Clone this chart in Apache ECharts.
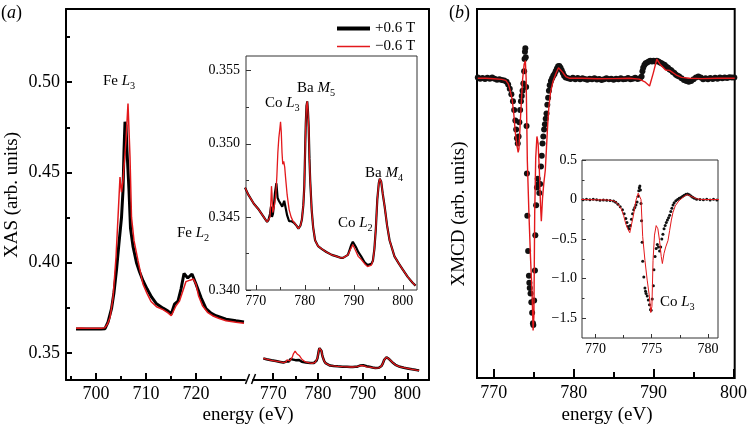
<!DOCTYPE html>
<html><head><meta charset="utf-8">
<script src="https://cdn.jsdelivr.net/npm/echarts@6/dist/echarts.min.js"></script>
<style>html,body{margin:0;padding:0;background:#fff}#c{width:750px;height:426px}</style>
</head><body><div id="c"></div>
<script>
// ---------- DATA ----------
// XAS, Fe L edge (energy eV, intensity)
const feBlack = [[696.0,0.3632],[697.0,0.3633],[698.0,0.3632],[699.0,0.3633],[700.0,0.3632],[701.0,0.3632],[701.8,0.3634],[702.4,0.3670],[703.1,0.3745],[703.6,0.3835],[704.1,0.3960],[704.6,0.4110],[705.1,0.4250],[705.4,0.4400],[705.6,0.4620],[705.8,0.4780],[706.0,0.4760],[706.2,0.4620],[706.6,0.4400],[706.9,0.4190],[707.4,0.4090],[708.1,0.4000],[708.7,0.3950],[709.4,0.3900],[710.2,0.3855],[711.1,0.3810],[712.1,0.3772],[713.4,0.3748],[714.4,0.3732],[715.05,0.3716],[715.7,0.3770],[716.4,0.3787],[717.0,0.3854],[717.6,0.3940],[718.35,0.3915],[719.2,0.3937],[720.0,0.3882],[721.0,0.3807],[722.0,0.3745],[723.0,0.3720],[724.0,0.3706],[726.0,0.3687],[728.0,0.3678],[729.6,0.3672]];
const feRed = [[696.0,0.3637],[697.0,0.3638],[698.0,0.3636],[699.0,0.3637],[700.0,0.3636],[701.0,0.3636],[701.8,0.3640],[702.3,0.3660],[702.8,0.3696],[703.4,0.3805],[704.0,0.4030],[704.4,0.4250],[704.8,0.4474],[705.1,0.4390],[705.4,0.4456],[706.0,0.4678],[706.4,0.4882],[706.8,0.4585],[707.1,0.4252],[707.6,0.4122],[708.4,0.4011],[709.4,0.3880],[710.2,0.3830],[711.0,0.3785],[712.1,0.3756],[713.4,0.3740],[714.4,0.3722],[715.05,0.3706],[716.0,0.3761],[716.7,0.3787],[717.5,0.3854],[718.0,0.3895],[718.8,0.3903],[719.5,0.3909],[720.0,0.3880],[720.5,0.3817],[721.3,0.3761],[722.3,0.3725],[723.3,0.3706],[724.5,0.3692],[726.0,0.3678],[728.0,0.3670],[729.6,0.3664]];
// XAS, Co L / Ba M edges
const baBlack = [[767.8,0.3470],[768.5,0.3465],[769.6,0.3459],[770.6,0.3455],[771.6,0.3450],[772.3,0.34465],[772.6,0.3448],[772.9,0.3452],[773.1,0.3457],[773.3,0.3450],[773.5,0.3452],[773.7,0.3458],[773.9,0.3466],[774.2,0.3473],[774.45,0.3463],[774.7,0.3461],[775.0,0.3460],[775.4,0.3457],[775.8,0.3461],[776.1,0.3456],[776.4,0.3451],[776.8,0.3447],[777.3,0.3447],[777.8,0.3446],[778.3,0.3444],[778.7,0.3442],[779.1,0.3444],[779.4,0.3448],[779.7,0.3458],[779.9,0.3471],[780.1,0.3500],[780.2,0.3514],[780.35,0.3526],[780.5,0.3529],[780.65,0.3522],[780.8,0.3511],[780.95,0.3490],[781.1,0.3475],[781.4,0.3455],[781.7,0.3443],[782.1,0.3434],[782.7,0.3430],[783.5,0.3428],[784.4,0.3426],[785.5,0.3424],[786.5,0.3423],[787.3,0.3422],[787.8,0.3422],[788.3,0.3423],[788.8,0.3424],[789.2,0.3428],[789.5,0.3431],[789.8,0.3433],[790.1,0.3432],[790.5,0.3429],[790.9,0.3426],[791.5,0.3423],[792.2,0.3419],[792.8,0.3417],[793.2,0.3417],[793.6,0.3418],[793.9,0.3420],[794.2,0.3428],[794.5,0.3442],[794.8,0.3462],[795.1,0.3473],[795.3,0.3476],[795.6,0.3474],[795.9,0.3466],[796.3,0.3457],[796.8,0.3444],[797.3,0.3434],[798.3,0.3423],[799.2,0.3418],[800.0,0.3414],[801.0,0.3409],[802.0,0.3405],[802.6,0.3403]];
const baRed = [[767.8,0.3470],[768.5,0.3465],[769.6,0.3459],[770.6,0.3455],[771.6,0.3450],[772.3,0.34465],[772.6,0.3447],[772.9,0.3450],[773.1,0.3462],[773.2,0.3471],[773.3,0.3466],[773.45,0.3453],[773.7,0.3456],[773.9,0.3460],[774.1,0.3466],[774.3,0.3478],[774.5,0.3494],[774.7,0.3504],[774.9,0.3510],[775.05,0.3515],[775.2,0.3508],[775.35,0.3494],[775.5,0.3486],[775.7,0.3488],[775.9,0.3484],[776.1,0.3476],[776.4,0.3465],[776.8,0.3455],[777.2,0.3450],[777.6,0.3447],[778.1,0.3445],[778.7,0.3442],[779.1,0.3444],[779.4,0.3448],[779.7,0.3458],[779.9,0.3471],[780.1,0.3500],[780.2,0.3514],[780.35,0.3526],[780.5,0.3529],[780.65,0.3522],[780.8,0.3511],[780.95,0.3490],[781.1,0.3475],[781.4,0.3455],[781.7,0.3443],[782.1,0.3434],[782.7,0.3430],[783.5,0.3428],[784.4,0.3426],[785.5,0.3424],[786.5,0.3423],[787.3,0.3422],[787.8,0.3422],[788.3,0.3423],[788.8,0.3424],[789.2,0.3427],[789.5,0.3429],[789.8,0.3431],[790.1,0.3430],[790.5,0.3426],[790.9,0.3423],[791.5,0.3421],[792.2,0.3418],[792.8,0.3416],[793.2,0.3416],[793.6,0.3417],[793.9,0.3420],[794.2,0.3428],[794.5,0.3442],[794.8,0.3462],[795.1,0.3473],[795.3,0.3476],[795.6,0.3474],[795.9,0.3466],[796.3,0.3457],[796.8,0.3444],[797.3,0.3434],[798.3,0.3423],[799.2,0.3418],[800.0,0.3414],[801.0,0.3409],[802.0,0.3405],[802.6,0.3403]];
// XMCD, Co L edge: measured (dots) and red curve
const xmcdBlack = [[768.0,0.004],[768.3,-0.003],[768.6,0.002],[768.9,-0.004],[769.2,0.003],[769.5,-0.002],[769.8,0.004],[770.1,-0.003],[770.4,-0.008],[770.7,-0.005],[771.0,-0.01],[771.3,-0.012],[771.6,-0.02],[771.8,-0.035],[772.0,-0.06],[772.2,-0.09],[772.4,-0.13],[772.55,-0.18],[772.7,-0.24],[772.8,-0.29],[772.9,-0.34],[773.0,-0.37],[773.1,-0.33],[773.2,-0.25],[773.3,-0.18],[773.4,-0.13],[773.5,-0.10],[773.6,-0.07],[773.7,-0.03],[773.8,0.04],[773.85,0.11],[773.9,0.15],[773.95,0.17],[774.0,0.12],[774.05,-0.05],[774.1,-0.27],[774.15,-0.54],[774.2,-0.78],[774.3,-0.98],[774.4,-1.12],[774.45,-1.16],[774.5,-1.19],[774.6,-1.22],[774.7,-1.27],[774.8,-1.33],[774.9,-1.39],[774.95,-1.40],[775.05,-1.26],[775.15,-1.09],[775.2,-0.89],[775.3,-0.72],[775.4,-0.62],[775.5,-0.57],[775.6,-0.60],[775.7,-0.65],[775.8,-0.60],[775.9,-0.50],[776.0,-0.44],[776.1,-0.37],[776.2,-0.33],[776.3,-0.29],[776.4,-0.26],[776.5,-0.23],[776.6,-0.20],[776.7,-0.15],[776.8,-0.11],[776.9,-0.07],[777.0,-0.04],[777.15,-0.015],[777.3,0.0],[777.45,0.015],[777.6,0.025],[777.75,0.04],[777.9,0.055],[778.05,0.068],[778.2,0.07],[778.35,0.06],[778.5,0.045],[778.65,0.03],[778.8,0.015],[779.0,0.005],[779.3,0.0],[779.6,-0.004],[779.9,0.003],[780.2,-0.005],[780.5,0.002],[780.8,-0.006],[781.1,0.0],[781.4,-0.004],[781.7,-0.008],[782.0,-0.003],[782.3,-0.006],[782.6,0.0],[782.9,-0.007],[783.2,-0.004],[783.5,-0.01],[783.8,-0.005],[784.1,0.0],[784.4,-0.006],[784.7,-0.003],[785.0,-0.008],[785.3,-0.002],[785.6,-0.006],[785.9,0.0],[786.2,-0.005],[786.5,-0.004],[786.8,0.002],[787.1,-0.006],[787.4,-0.002],[787.7,0.003],[788.0,-0.004],[788.3,0.0],[788.5,0.01],[788.6,0.04],[788.7,0.06],[788.85,0.075],[789.0,0.085],[789.2,0.09],[789.4,0.095],[789.6,0.1],[789.8,0.095],[790.0,0.1],[790.2,0.095],[790.4,0.1],[790.6,0.095],[790.8,0.09],[791.0,0.085],[791.2,0.08],[791.4,0.075],[791.6,0.065],[791.8,0.06],[792.0,0.05],[792.2,0.045],[792.4,0.035],[792.6,0.03],[792.8,0.02],[793.0,0.015],[793.2,0.01],[793.5,0.0],[793.8,-0.01],[794.1,-0.015],[794.4,-0.02],[794.7,-0.015],[795.0,-0.005],[795.3,0.005],[795.6,0.01],[795.9,0.005],[796.2,-0.005],[796.5,0.0],[796.8,-0.006],[797.1,0.002],[797.4,-0.004],[797.7,0.003],[798.0,-0.003],[798.3,0.004],[798.6,0.0],[798.9,0.005],[799.2,0.002],[799.5,0.006],[799.8,0.004],[800.1,0.005]];
const xmcdRed = [[768.0,0.0],[769.0,0.0],[770.0,-0.003],[771.0,-0.006],[771.5,-0.012],[771.8,-0.03],[772.0,-0.06],[772.3,-0.12],[772.5,-0.2],[772.7,-0.31],[772.9,-0.38],[773.05,-0.42],[773.15,-0.40],[773.35,-0.22],[773.6,-0.01],[773.8,0.08],[773.95,0.10],[774.05,0.0],[774.2,-0.47],[774.4,-0.77],[774.6,-1.02],[774.8,-1.23],[774.92,-1.43],[775.02,-1.35],[775.12,-0.77],[775.25,-0.45],[775.4,-0.33],[775.55,-0.37],[775.7,-0.52],[775.85,-0.72],[775.95,-0.81],[776.1,-0.68],[776.25,-0.60],[776.45,-0.52],[776.6,-0.39],[776.75,-0.26],[776.9,-0.16],[777.1,-0.08],[777.4,-0.02],[777.8,0.03],[778.1,0.06],[778.3,0.055],[778.6,0.035],[779.0,0.01],[779.5,0.0],[781.0,0.0],[783.0,-0.003],[785.0,-0.002],[787.0,0.0],[788.2,-0.005],[788.9,-0.02],[789.5,-0.044],[789.95,0.028],[790.4,0.108],[790.8,0.08],[791.5,0.047],[792.0,0.045],[792.8,0.02],[793.5,0.005],[794.5,0.0],[796.0,-0.002],[798.0,0.0],[800.15,0.0]];
// tick values
const ticksFe = [700, 710, 720], minorFe = [695, 705, 715, 725];
const ticksBa = [770, 780, 790, 800], minorBa = [775, 785, 795];
const ticksXAS = [0.35, 0.40, 0.45, 0.50], minorXAS = [0.375, 0.425, 0.475, 0.525];
const ticksInA = [0.340, 0.345, 0.350, 0.355], minorInA = [0.3425, 0.3475, 0.3525];
const ticksB = [770, 780, 790, 800], minorB = [775, 785, 795];
const ticksInBx = [770, 775, 780], minorInBx = [772.5, 777.5];
const ticksInBy = [-1.5, -1.0, -0.5, 0, 0.5], minorInBy = [-1.25, -0.75, -0.25, 0.25];
const legendNames = ['+0.6 T', '\u22120.6 T'];

// ---------- CHART ----------
const FONT = 'Liberation Serif';
const RED = '#e3191c';
const chart = echarts.init(document.getElementById('c'), null, {renderer: 'canvas'});

function ax(o) {
  return {
    type: 'value', gridIndex: o.grid, min: o.min, max: o.max, position: o.pos,
    axisLine: {show: !!o.line, onZero: false, lineStyle: {color: o.lc || '#000', width: o.lw || 2}},
    axisTick: o.ticks ? {show: true, inside: true, length: o.tl, customValues: o.ticks,
      lineStyle: {color: o.tc || '#000', width: o.tw || 1}} : {show: false},
    axisLabel: o.labels ? {show: true, customValues: o.ticks,
      formatter: v => '{t|' + o.fmt(v) + '}',
      rich: {t: {fontFamily: FONT, fontSize: o.fs, color: '#000'}},
      fontFamily: FONT, fontSize: o.fs, color: '#000', margin: o.margin} : {show: false},
    splitLine: {show: false}
  };
}
const minus = v => v === 0 ? '0' : (v < 0 ? '\u2212' + Math.abs(v).toFixed(1) : v.toFixed(1));

function ann(x, y, a, b, s, fs) {
  return {type: 'text', x: x, y: y, z: 100, style: {
    text: '{n|' + a + ' }{i|' + b + '}{s|' + s + '}',
    align: 'left', verticalAlign: 'middle', textAlign: 'left', textVerticalAlign: 'middle',
    rich: {
      n: {fontFamily: FONT, fontSize: fs, lineHeight: 20, fill: '#000', color: '#000'},
      i: {fontFamily: FONT, fontSize: fs, fontStyle: 'italic', lineHeight: 20, fill: '#000', color: '#000'},
      s: {fontFamily: FONT, fontSize: fs * 0.68, lineHeight: 12, verticalAlign: 'bottom', fill: '#000', color: '#000'}
    }}};
}
function plain(x, y, t, fs, rot) {
  return {type: 'text', x: x, y: y, rotation: rot || 0, z: 100, style: {
    text: '{t|' + t + '}', fill: '#000',
    align: 'center', verticalAlign: 'middle', textAlign: 'center', textVerticalAlign: 'middle',
    rich: {t: {fontFamily: FONT, fontSize: fs, fill: '#000', color: '#000'}}}};
}
function panelLabel(x, y, l) {
  return {type: 'text', x: x, y: y, z: 100, style: {
    text: '{r|(}{i|' + l + '}{r|)}', align: 'left', verticalAlign: 'middle',
    textAlign: 'left', textVerticalAlign: 'middle',
    rich: {r: {fontFamily: FONT, fontSize: 18, fill: '#000', color: '#000'},
           i: {fontFamily: FONT, fontSize: 18, fontStyle: 'italic', fill: '#000', color: '#000'}}}};
}

const f2 = v => v.toFixed(2), f3 = v => v.toFixed(3), f0 = v => String(v);

const option = {
  animation: false,
  backgroundColor: '#fff',
  textStyle: {fontFamily: FONT},
  grid: [
    {left: 66, top: 9, width: 179, height: 371},                       // 0 Fe segment
    {left: 253, top: 9, width: 176, height: 371},                      // 1 Co/Ba segment
    {left: 66, top: 9, width: 363, height: 371},                       // 2 frame of (a)
    {left: 246, top: 56, width: 171, height: 234, show: true, borderColor: '#333', borderWidth: 1, backgroundColor: '#fff'}, // 3 inset (a)
    {left: 477, top: 9, width: 260, height: 369, show: true, borderColor: '#000', borderWidth: 2}, // 4 (b)
    {left: 582, top: 160, width: 136, height: 178, show: true, borderColor: '#333', borderWidth: 1, backgroundColor: '#fff'} // 5 inset (b)
  ],
  xAxis: [
    ax({grid: 0, min: 694, max: 729.8, pos: 'bottom', line: true, ticks: ticksFe, tl: 7, tw: 2, labels: true, fmt: f0, fs: 18, margin: 5}),
    ax({grid: 0, min: 694, max: 729.8, pos: 'bottom', ticks: minorFe, tl: 4, tw: 2}),
    ax({grid: 1, min: 765.5, max: 804.8, pos: 'bottom', line: true, ticks: ticksBa, tl: 7, tw: 2, labels: true, fmt: f0, fs: 18, margin: 5}),
    ax({grid: 1, min: 765.5, max: 804.8, pos: 'bottom', ticks: minorBa, tl: 4, tw: 2}),
    ax({grid: 2, min: 0, max: 1, pos: 'top', line: true}),
    ax({grid: 3, min: 768.0, max: 802.9, pos: 'bottom', ticks: ticksBa, tl: 5, tw: 1, tc: '#333', labels: true, fmt: f0, fs: 14, margin: 4}),
    ax({grid: 3, min: 768.0, max: 802.9, pos: 'bottom', ticks: minorBa, tl: 3, tw: 1, tc: '#333'}),
    ax({grid: 4, min: 767.9, max: 800.15, pos: 'bottom', ticks: ticksB, tl: 9, tw: 2, labels: true, fmt: f0, fs: 18, margin: 6}),
    ax({grid: 4, min: 767.9, max: 800.15, pos: 'bottom', ticks: minorB, tl: 6, tw: 2}),
    ax({grid: 5, min: 768.8, max: 780.9, pos: 'bottom', ticks: ticksInBx, tl: 4, tw: 1, tc: '#333', labels: true, fmt: f0, fs: 14, margin: 4}),
    ax({grid: 5, min: 768.8, max: 780.9, pos: 'bottom', ticks: minorInBx, tl: 3, tw: 1, tc: '#333'})
  ],
  yAxis: [
    ax({grid: 0, min: 0.335, max: 0.5405, pos: 'left', line: true, ticks: ticksXAS, tl: 6, tw: 2, labels: true, fmt: f2, fs: 18, margin: 6}),
    ax({grid: 0, min: 0.335, max: 0.5405, pos: 'left', ticks: minorXAS, tl: 4, tw: 2}),
    ax({grid: 1, min: 0.335, max: 0.5405, pos: 'left'}),
    ax({grid: 2, min: 0, max: 1, pos: 'right', line: true}),
    ax({grid: 3, min: 0.340, max: 0.356, pos: 'left', ticks: ticksInA, tl: 5, tw: 1, tc: '#333', labels: true, fmt: f3, fs: 14, margin: 6}),
    ax({grid: 3, min: 0.340, max: 0.356, pos: 'left', ticks: minorInA, tl: 3, tw: 1, tc: '#333'}),
    ax({grid: 4, min: -1.70, max: 0.393, pos: 'left'}),
    ax({grid: 5, min: -1.752, max: 0.5, pos: 'left', ticks: ticksInBy, tl: 4, tw: 1, tc: '#333', labels: true, fmt: minus, fs: 14, margin: 5}),
    ax({grid: 5, min: -1.752, max: 0.5, pos: 'left', ticks: minorInBy, tl: 2.5, tw: 1, tc: '#333'})
  ],
  legend: {
    orient: 'vertical', left: 330, top: 16, itemWidth: 33, itemHeight: 14, itemGap: 3,
    selectedMode: false,
    formatter: n => '{t|' + n + '}',
    textStyle: {fontFamily: FONT, fontSize: 15, color: '#000',
      rich: {t: {fontFamily: FONT, fontSize: 15, color: '#000'}}},
    data: [{name: legendNames[0], lineStyle: {width: 4, color: '#000'},
            itemStyle: {color: 'rgba(0,0,0,0)', borderColor: 'rgba(0,0,0,0)', borderWidth: 0}},
           {name: legendNames[1], lineStyle: {width: 1.5, color: RED},
            itemStyle: {color: 'rgba(0,0,0,0)', borderColor: 'rgba(0,0,0,0)', borderWidth: 0}}]
  },
  series: [
    {type: 'line', name: legendNames[0], xAxisIndex: 0, yAxisIndex: 0, data: feBlack, symbol: 'none', smooth: false,
      lineStyle: {color: '#000', width: 3}, itemStyle: {color: '#000'}, z: 3},
    {type: 'line', name: legendNames[1], xAxisIndex: 0, yAxisIndex: 0, data: feRed, symbol: 'none',
      lineStyle: {color: RED, width: 1.5}, itemStyle: {color: RED}, z: 4},
    {type: 'line', name: legendNames[0], xAxisIndex: 2, yAxisIndex: 2, data: baBlack, symbol: 'none',
      lineStyle: {color: '#000', width: 2.5}, itemStyle: {color: '#000'}, z: 3},
    {type: 'line', name: legendNames[1], xAxisIndex: 2, yAxisIndex: 2, data: baRed, symbol: 'none',
      lineStyle: {color: RED, width: 1.3}, itemStyle: {color: RED}, z: 4},
    {type: 'line', name: legendNames[0], xAxisIndex: 5, yAxisIndex: 4, data: baBlack, symbol: 'none',
      lineStyle: {color: '#000', width: 2.2}, itemStyle: {color: '#000'}, z: 5},
    {type: 'line', name: legendNames[1], xAxisIndex: 5, yAxisIndex: 4, data: baRed, symbol: 'none',
      lineStyle: {color: RED, width: 1.3}, itemStyle: {color: RED}, z: 6},
    {type: 'scatter', name: 'XMCD', xAxisIndex: 7, yAxisIndex: 6, data: xmcdBlack, symbolSize: 6,
      itemStyle: {color: '#111', opacity: 1}, z: 3},
    {type: 'line', name: 'XMCD calc', xAxisIndex: 7, yAxisIndex: 6, data: xmcdRed, symbol: 'none',
      lineStyle: {color: RED, width: 1.4}, itemStyle: {color: RED}, z: 4},
    {type: 'scatter', name: 'XMCD', xAxisIndex: 9, yAxisIndex: 7, data: xmcdBlack, symbolSize: 3,
      itemStyle: {color: '#111', opacity: 1}, z: 5},
    {type: 'line', name: 'XMCD calc', xAxisIndex: 9, yAxisIndex: 7, data: xmcdRed, symbol: 'none',
      lineStyle: {color: RED, width: 1}, itemStyle: {color: RED}, z: 6}
  ],
  graphic: [
    {type: 'line', z: 100, shape: {x1: 245.5, y1: 384, x2: 249.5, y2: 374}, style: {stroke: '#000', lineWidth: 1.5}},
    {type: 'line', z: 100, shape: {x1: 251.5, y1: 384, x2: 255.5, y2: 374}, style: {stroke: '#000', lineWidth: 1.5}},
    panelLabel(1, 13, 'a'),
    panelLabel(449, 13, 'b'),
    plain(12, 195, 'XAS (arb. units)', 19, Math.PI / 2),
    plain(459, 214, 'XMCD (arb. units)', 19, Math.PI / 2),
    plain(248, 415, 'energy (eV)', 19),
    plain(607, 415, 'energy (eV)', 19),
    ann(103, 81, 'Fe', 'L', '3', 15),
    ann(177, 233, 'Fe', 'L', '2', 15),
    ann(265, 103, 'Co', 'L', '3', 15),
    ann(297, 88, 'Ba', 'M', '5', 15),
    ann(338, 223, 'Co', 'L', '2', 15),
    ann(365, 173, 'Ba', 'M', '4', 15),
    ann(660, 302, 'Co', 'L', '3', 15)
  ]
};
chart.setOption(option);
</script>
</body></html>
